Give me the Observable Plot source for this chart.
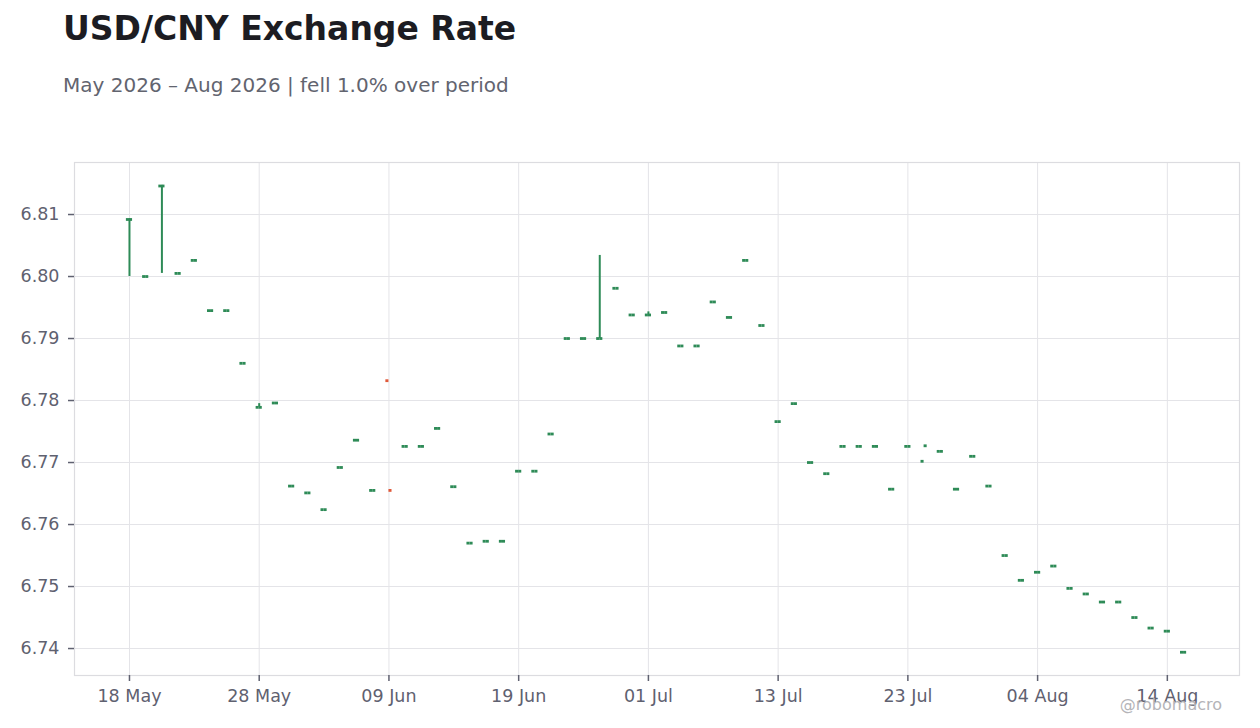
<!DOCTYPE html>
<html>
<head>
<meta charset="utf-8">
<script src="https://cdn.jsdelivr.net/npm/d3@7"></script>
<script src="https://cdn.jsdelivr.net/npm/@observablehq/plot@0.6"></script>
<style>
  html, body { margin: 0; padding: 0; background: #ffffff; }
  #wrap { position: relative; width: 1260px; height: 728px; font-family: "DejaVu Sans", sans-serif; }
  #title { position: absolute; left: 63px; top: 12px; font-size: 33px; line-height: 1; font-weight: bold; color: #1c1c22; white-space: nowrap; }
  #subtitle { position: absolute; left: 63px; top: 75px; font-size: 20px; line-height: 1; color: #62646f; white-space: nowrap; }
  #mark { position: absolute; right: 38px; top: 697px; font-size: 16px; line-height: 1; color: #b4b4b8; white-space: nowrap; }
  #chart { position: absolute; left: 0; top: 0; }
</style>
</head>
<body>
<div id="wrap">
  <div id="chart"></div>
  <div id="title">USD/CNY Exchange Rate</div>
  <div id="subtitle">May 2026 – Aug 2026 | fell 1.0% over period</div>
  <div id="mark">@robomacro</div>
</div>
<script>
// Trading days (weekdays)
const dates = [
  "2026-05-18","2026-05-19","2026-05-20","2026-05-21","2026-05-22",
  "2026-05-25","2026-05-26","2026-05-27","2026-05-28","2026-05-29",
  "2026-06-01","2026-06-02","2026-06-03","2026-06-04","2026-06-05",
  "2026-06-08","2026-06-09","2026-06-10","2026-06-11","2026-06-12",
  "2026-06-15","2026-06-16","2026-06-17","2026-06-18","2026-06-19",
  "2026-06-22","2026-06-23","2026-06-24","2026-06-25","2026-06-26",
  "2026-06-29","2026-06-30","2026-07-01","2026-07-02","2026-07-03",
  "2026-07-06","2026-07-07","2026-07-08","2026-07-09","2026-07-10",
  "2026-07-13","2026-07-14","2026-07-15","2026-07-16","2026-07-17",
  "2026-07-20","2026-07-21","2026-07-22","2026-07-23","2026-07-24",
  "2026-07-27","2026-07-28","2026-07-29","2026-07-30","2026-07-31",
  "2026-08-03","2026-08-04","2026-08-05","2026-08-06","2026-08-07",
  "2026-08-10","2026-08-11","2026-08-12","2026-08-13","2026-08-14",
  "2026-08-17"
];
const openV = [
  6.8092,6.8000,6.8146,6.8005,6.8026, 6.7945,6.7945,6.7860,6.7789,6.7796,
  6.7662,6.7651,6.7624,6.7692,6.7736, 6.7655,6.7832,6.7726,6.7726,6.7755,
  6.7661,6.7570,6.7573,6.7573,6.7686, 6.7686,6.7746,6.7900,6.7900,6.7900,
  6.7981,6.7938,6.7938,6.7942,6.7888, 6.7888,6.7959,6.7934,6.8026,6.7921,
  6.7766,6.7795,6.7700,6.7682,6.7726, 6.7726,6.7726,6.7657,6.7726,6.7702,
  6.7718,6.7657,6.7710,6.7662,6.7550, 6.7510,6.7523,6.7533,6.7497,6.7488,
  6.7475,6.7475,6.7450,6.7433,6.7428, 6.7394
];
const closeV = [
  6.8092,6.8000,6.8146,6.8005,6.8026, 6.7945,6.7945,6.7860,6.7789,6.7796,
  6.7662,6.7651,6.7624,6.7692,6.7736, 6.7655,6.7655,6.7726,6.7726,6.7755,
  6.7661,6.7570,6.7573,6.7573,6.7686, 6.7686,6.7746,6.7900,6.7900,6.7900,
  6.7981,6.7938,6.7938,6.7942,6.7888, 6.7888,6.7959,6.7934,6.8026,6.7921,
  6.7766,6.7795,6.7700,6.7682,6.7726, 6.7726,6.7726,6.7657,6.7726,6.7727,
  6.7718,6.7657,6.7710,6.7662,6.7550, 6.7510,6.7523,6.7533,6.7497,6.7488,
  6.7475,6.7475,6.7450,6.7433,6.7428, 6.7394
];
const highV = [
  6.8093,6.8000,6.8147,6.8005,6.8026, 6.7945,6.7945,6.7860,6.7795,6.7796,
  6.7662,6.7651,6.7624,6.7692,6.7736, 6.7655,6.7655,6.7726,6.7726,6.7755,
  6.7661,6.7570,6.7573,6.7573,6.7686, 6.7686,6.7746,6.7900,6.7900,6.8034,
  6.7981,6.7938,6.7943,6.7942,6.7888, 6.7888,6.7959,6.7934,6.8026,6.7921,
  6.7766,6.7795,6.7700,6.7682,6.7726, 6.7726,6.7726,6.7657,6.7726,6.7727,
  6.7718,6.7657,6.7710,6.7662,6.7550, 6.7510,6.7523,6.7533,6.7497,6.7488,
  6.7475,6.7475,6.7450,6.7433,6.7428, 6.7394
];
const lowV = [
  6.8000,6.8000,6.8005,6.8005,6.8026, 6.7945,6.7945,6.7860,6.7789,6.7796,
  6.7662,6.7651,6.7624,6.7692,6.7736, 6.7655,6.7655,6.7726,6.7726,6.7755,
  6.7661,6.7570,6.7573,6.7573,6.7686, 6.7686,6.7746,6.7900,6.7900,6.7900,
  6.7981,6.7938,6.7938,6.7942,6.7888, 6.7888,6.7959,6.7934,6.8026,6.7921,
  6.7766,6.7795,6.7700,6.7682,6.7726, 6.7726,6.7726,6.7657,6.7726,6.7727,
  6.7718,6.7657,6.7710,6.7662,6.7550, 6.7510,6.7523,6.7533,6.7497,6.7488,
  6.7475,6.7475,6.7450,6.7433,6.7428, 6.7394
];
const yTicks = [6.74, 6.75, 6.76, 6.77, 6.78, 6.79, 6.80, 6.81];
const xTickIdx = [0, 8, 16, 24, 32, 40, 48, 56, 64];

const UP = "#2e8b57", DOWN = "#e0593a";
const parse = d3.utcParse("%Y-%m-%d");
const fmt = d3.utcFormat("%d %b");

const rows = dates.map((d, i) => ({
  i, date: parse(d), open: openV[i], close: closeV[i], high: highV[i], low: lowV[i],
  color: closeV[i] >= openV[i] ? UP : DOWN
}));
const wicks = rows.filter(r => r.high - r.low > 0.00005);
const HW = 0.19;

const chart = Plot.plot({
  width: 1260,
  height: 728,
  marginTop: 162,
  marginBottom: 53,
  marginLeft: 74,
  marginRight: 21,
  style: { fontFamily: "DejaVu Sans, sans-serif", fontSize: "17.5px", color: "#5f6170", background: "transparent" },
  x: { type: "linear", domain: [-3.39, 68.45] },
  y: { domain: [6.73565, 6.81839] },
  marks: [
    Plot.frame({ fill: "white", stroke: "none" }),
    Plot.gridX(xTickIdx, { stroke: "#e4e4e8", strokeOpacity: 1, strokeWidth: 1 }),
    Plot.gridY(yTicks, { stroke: "#e4e4e8", strokeOpacity: 1, strokeWidth: 1 }),
    Plot.frame({ stroke: "#dcdce0", strokeWidth: 1.2 }),
    Plot.axisY(yTicks, {
      tickFormat: d3.format(".2f"), tickSize: 6, tickPadding: 9,
      stroke: "#5f6170", strokeWidth: 1.5, fontSize: 17.5, fill: "#5f6170", label: null
    }),
    Plot.axisX(xTickIdx, {
      tickFormat: i => fmt(parse(dates[i])), tickSize: 6, tickPadding: 8,
      stroke: "#5f6170", strokeWidth: 1.5, fontSize: 17.5, fill: "#5f6170", label: null
    }),
    Plot.ruleX(wicks, { x: "i", y1: "low", y2: "high", stroke: "color", strokeWidth: 2 }),
    Plot.ruleY(rows, { y: "open", x1: r => r.i - HW, x2: r => r.i, stroke: "color", strokeWidth: 2.8 }),
    Plot.ruleY(rows, { y: "close", x1: r => r.i, x2: r => r.i + HW, stroke: "color", strokeWidth: 2.8 })
  ]
});
document.getElementById("chart").appendChild(chart);
</script>
</body>
</html>
